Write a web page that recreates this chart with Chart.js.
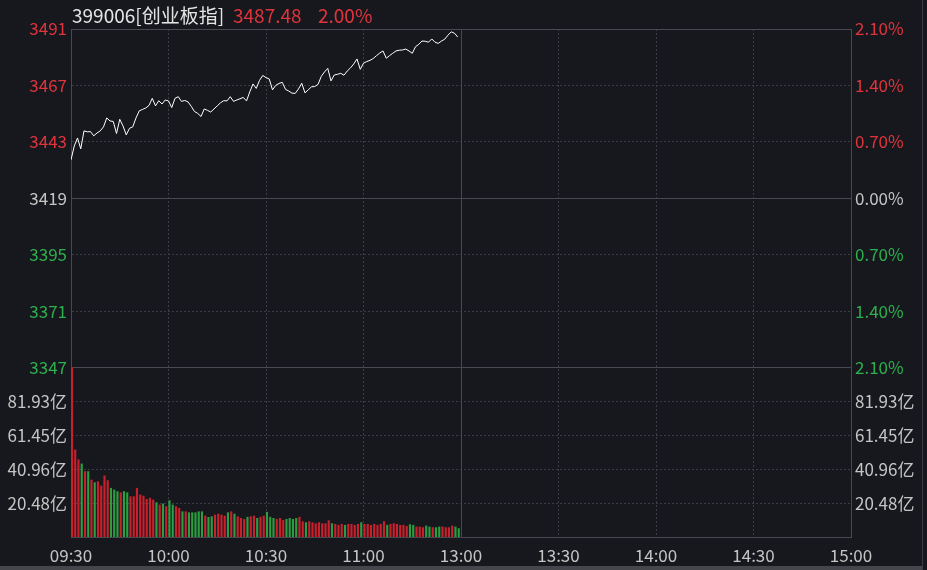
<!DOCTYPE html>
<html><head><meta charset="utf-8">
<script src="https://cdn.jsdelivr.net/npm/chart.js@4"></script>
<style>
html,body{margin:0;padding:0;background:#16181d;overflow:hidden}
#wrap{position:relative;width:927px;height:570px;background:#16181d}
canvas{position:absolute;left:0;top:0}
.hdr{position:absolute;top:4px;font-family:"Noto Sans CJK SC","Noto Sans",sans-serif;font-size:19px;line-height:22px;white-space:nowrap}
</style></head><body>
<div id="wrap">
<canvas id="c" width="927" height="570"></canvas>
<span class="hdr" id="hName" style="left:72px;color:#e4e4e4"></span>
<span class="hdr" id="hLast" style="left:233px;color:#e0343d"></span>
<span class="hdr" id="hChg" style="left:318px;color:#e0343d"></span>
<div style="position:absolute;left:922px;top:0;width:1px;height:570px;background:#3a3d44"></div>
<div style="position:absolute;left:0;top:566px;width:922px;height:4px;background:#44464c"></div>
</div>
<script>
// ---- data ----
const indexName = '399006[创业板指]';
const lastPriceText = '3487.48';
const changeText = '2.00%';
const prevClose = 3419.10;
const timeLabels = ['09:30','10:00','10:30','11:00','13:00','13:30','14:00','14:30','15:00'];
const pctSteps = [-2.1,-1.4,-0.7,0,0.7,1.4,2.1];
const priceTickLabels = ['3347','3371','3395','3419','3443','3467','3491'];
const pctTickLabels = ['2.10%','1.40%','0.70%','0.00%','0.70%','1.40%','2.10%'];
const volTickValues = [20.48,40.96,61.45,81.93];
const volTickLabels = ['20.48亿','40.96亿','61.45亿','81.93亿'];
const volMax = 102.4;
const prices = [
3435.4,3441.3,3444.7,3440.1,3447.7,3447.3,3447.4,3445.6,3446.8,3447.7,
3449.4,3453.2,3451.9,3451.7,3446.6,3452.6,3449.8,3446.0,3448.8,3449.4,
3453.2,3456.2,3456.8,3457.4,3458.5,3461.5,3458.3,3460.5,3459.1,3460.8,
3460.4,3457.6,3461.5,3462.2,3460.2,3460.6,3460.0,3458.1,3455.9,3455.1,
3453.8,3457.0,3456.4,3455.7,3457.0,3458.3,3459.6,3460.5,3460.4,3462.2,
3460.2,3460.8,3461.3,3461.9,3460.4,3464.2,3467.6,3465.7,3469.1,3471.2,
3470.3,3469.7,3465.1,3467.0,3467.8,3468.3,3465.3,3464.6,3463.7,3463.6,
3465.5,3467.9,3463.8,3465.1,3466.4,3466.5,3467.4,3470.8,3472.7,3474.2,
3468.9,3471.4,3471.7,3472.1,3471.3,3473.1,3474.4,3476.1,3478.2,3473.8,
3476.4,3477.1,3477.6,3478.4,3479.6,3480.7,3481.6,3478.5,3479.6,3480.6,
3481.6,3481.9,3482.0,3482.4,3481.6,3480.6,3483.4,3484.4,3485.8,3485.7,
3485.3,3486.7,3485.3,3484.8,3485.8,3486.6,3488.3,3489.7,3489.1,3487.48];
const volumes = [
102.4,52.7,46.7,44.2,39.6,39.6,34.5,32.9,33.5,30.9,
37.0,34.1,29.5,28.5,27.5,26.8,27.5,26.8,24.4,24.4,
29.5,25.5,24.8,22.8,23.5,22.4,20.8,19.4,20.0,18.4,
22.0,19.4,18.4,17.4,15.3,15.3,14.7,14.7,14.7,15.3,
15.3,12.7,11.9,12.3,13.3,13.9,13.3,12.7,14.7,15.3,
13.9,12.3,11.3,10.7,12.0,12.3,12.7,11.3,12.0,12.7,
15.0,12.0,11.3,10.7,11.3,10.1,10.7,11.3,10.7,11.3,
12.0,9.3,8.7,9.3,8.7,8.1,8.7,8.1,8.1,9.9,
8.1,7.7,7.1,7.7,7.1,7.7,7.7,7.1,7.7,8.7,
7.7,7.7,7.1,7.7,7.1,7.7,9.3,7.1,7.7,8.1,
7.7,7.1,7.1,6.5,7.5,7.1,6.1,6.1,5.7,6.7,
6.1,5.7,5.7,6.1,6.1,5.7,5.7,6.7,6.1,5.1];

// ---- styles ----
const RED = '#e0343d', GREEN = '#2db04d', GRAY = '#c4c4c4';
const BAR_RED = '#c8202d', BAR_GREEN = '#2a9e40';
const SOLID = '#464950', DOT = '#3a3d44';
const FONT = '"Noto Sans CJK SC","Noto Sans",sans-serif';

document.getElementById('hName').textContent = indexName;
document.getElementById('hLast').textContent = lastPriceText;
document.getElementById('hChg').textContent = changeText;

const pTop = prevClose * (1 + pctSteps[pctSteps.length-1]/100);
const pBot = prevClose * (1 + pctSteps[0]/100);
const yMax = pTop, yMin = pBot - (pTop - pBot) / 2;
const vMax = volMax * 3;
const volToP = v => yMin + v / vMax * (yMax - yMin);

const tickDefs = [];
volTickValues.forEach((v, i) => tickDefs.push({value: volToP(v), label: volTickLabels[i], rlabel: volTickLabels[i], color: GRAY, solid: false}));
pctSteps.forEach((s, i) => tickDefs.push({
  value: prevClose * (1 + s/100), label: priceTickLabels[i], rlabel: pctTickLabels[i],
  color: s > 0 ? RED : (s < 0 ? GREEN : GRAY),
  solid: s === 0 || i === 0 || i === pctSteps.length - 1
}));

const barColors = volumes.map((v, i) => {
  const prev = i === 0 ? prevClose : prices[i-1];
  return prices[i] >= prev ? BAR_RED : BAR_GREEN;
});

Chart.defaults.font.family = FONT;
new Chart(document.getElementById('c'), {
  type: 'line',
  data: {
    datasets: [
      { type: 'line', data: prices.map((p, i) => ({x: i, y: p})), xAxisID: 'x', yAxisID: 'yP',
        borderColor: '#ffffff', borderWidth: 1, pointRadius: 0, tension: 0, order: 0 },
      { type: 'bar', data: volumes.map((v, i) => ({x: i + 0.3, y: v})), xAxisID: 'x', yAxisID: 'yV',
        backgroundColor: ctx => barColors[ctx.dataIndex], barThickness: 1.5, order: 1 }
    ]
  },
  options: {
    responsive: false, animation: false, devicePixelRatio: 1,
    layout: { padding: { top: 29, left: 0, right: 0, bottom: 0 } },
    plugins: { legend: { display: false }, tooltip: { enabled: false } },
    scales: {
      x: {
        type: 'linear', min: 0, max: 240, offset: false,
        afterBuildTicks: s => { s.ticks = timeLabels.map((_, i) => ({value: i * 30})); },
        afterFit: s => { s.height = 33; },
        ticks: { autoSkip: false, maxRotation: 0, color: GRAY, font: {size: 17}, padding: 8,
          callback: (v, i) => timeLabels[i] },
        grid: { offset: false, drawTicks: false, lineWidth: 1,
          color: ctx => (ctx.tick && (ctx.tick.value === 120 || ctx.tick.value === 0 || ctx.tick.value === 240)) ? SOLID : DOT },
        border: { display: true, color: SOLID, width: 1,
          dash: ctx => (ctx.tick && ctx.tick.value !== 120 && ctx.tick.value !== 0 && ctx.tick.value !== 240) ? [2, 2] : [] }
      },
      yP: {
        position: 'left', min: yMin, max: yMax,
        afterBuildTicks: s => { s.ticks = tickDefs.map(t => ({value: t.value})); },
        afterFit: s => { s.width = 71; },
        ticks: { autoSkip: false, font: {size: 17}, padding: 4,
          color: ctx => (tickDefs[ctx.index] || {}).color || GRAY,
          callback: (v, i) => tickDefs[i].label },
        grid: { drawTicks: false, lineWidth: 1,
          color: ctx => (tickDefs[ctx.index] && tickDefs[ctx.index].solid) ? SOLID : DOT },
        border: { display: true, color: SOLID, width: 1,
          dash: ctx => (ctx.tick && tickDefs[ctx.index] && !tickDefs[ctx.index].solid) ? [2, 2] : [] }
      },
      yR: {
        position: 'right', min: yMin, max: yMax,
        afterBuildTicks: s => { s.ticks = tickDefs.map(t => ({value: t.value})); },
        afterFit: s => { s.width = 76; },
        ticks: { autoSkip: false, font: {size: 17}, padding: 4,
          color: ctx => (tickDefs[ctx.index] || {}).color || GRAY,
          callback: (v, i) => tickDefs[i].rlabel },
        grid: { drawOnChartArea: false, drawTicks: false },
        border: { display: true, color: SOLID, width: 1 }
      },
      yV: { display: false, min: 0, max: vMax }
    }
  }
});
</script>
</body></html>
